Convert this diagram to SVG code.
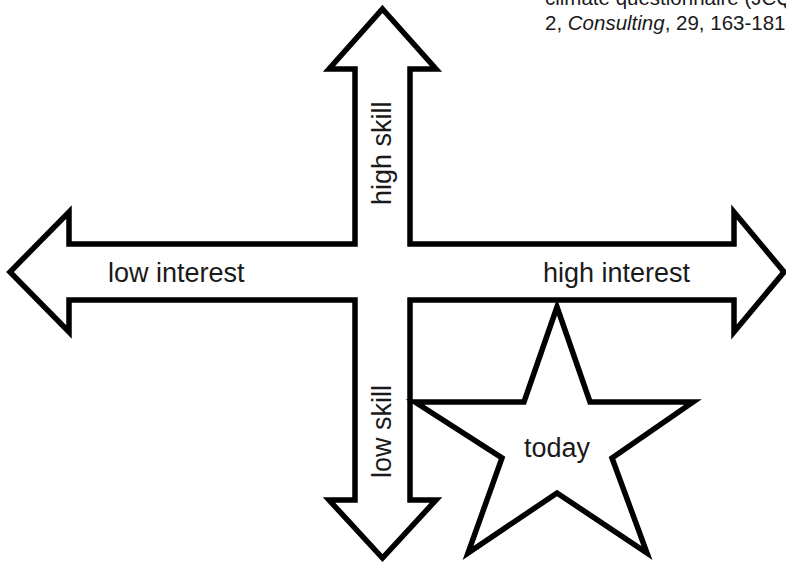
<svg xmlns="http://www.w3.org/2000/svg" width="786" height="562" viewBox="0 0 786 562">
  <style>
    .shape { fill: #ffffff; stroke: #000000; stroke-width: 5.5; stroke-linejoin: miter; stroke-miterlimit: 10; }
    .lbl { font-family: "Liberation Sans", Arial, sans-serif; font-size: 27px; fill: #1a1a1a; }
    .cite { font-family: "Liberation Sans", Arial, sans-serif; font-size: 20.5px; fill: #1a1a1a; }
  </style>
  <rect x="0" y="0" width="786" height="562" fill="#ffffff"/>
  <g id="citation">
    <text class="cite" x="545" y="5">climate questionnaire (JCQ</text>
    <text class="cite" x="545" y="30">2, <tspan font-style="italic">Consulting</tspan>, 29, 163-181</text>
  </g>
  <g id="axes">
    <polygon class="shape" points="382.5,9 436,69 410,69 410,244 734,244 734,212 784,272 734,332 734,300 410,300 410,500 436,500 382.5,558 329,500 355,500 355,300 69,300 69,332 10,272 69,212 69,244 355,244 355,69 329,69"/>
    <text class="lbl" x="108" y="282">low interest</text>
    <text class="lbl" x="543" y="282">high interest</text>
    <text class="lbl" transform="translate(391,205) rotate(-90)">high skill</text>
    <text class="lbl" transform="translate(391,478) rotate(-90)">low skill</text>
  </g>
  <g id="today">
    <polygon class="shape" points="557,307 590,402 693,402 612,458 647,553 557,493 468,553 502,458 415,402 524,402"/>
    <text class="lbl" x="557" y="457" text-anchor="middle" font-size="24.5">today</text>
  </g>
</svg>
